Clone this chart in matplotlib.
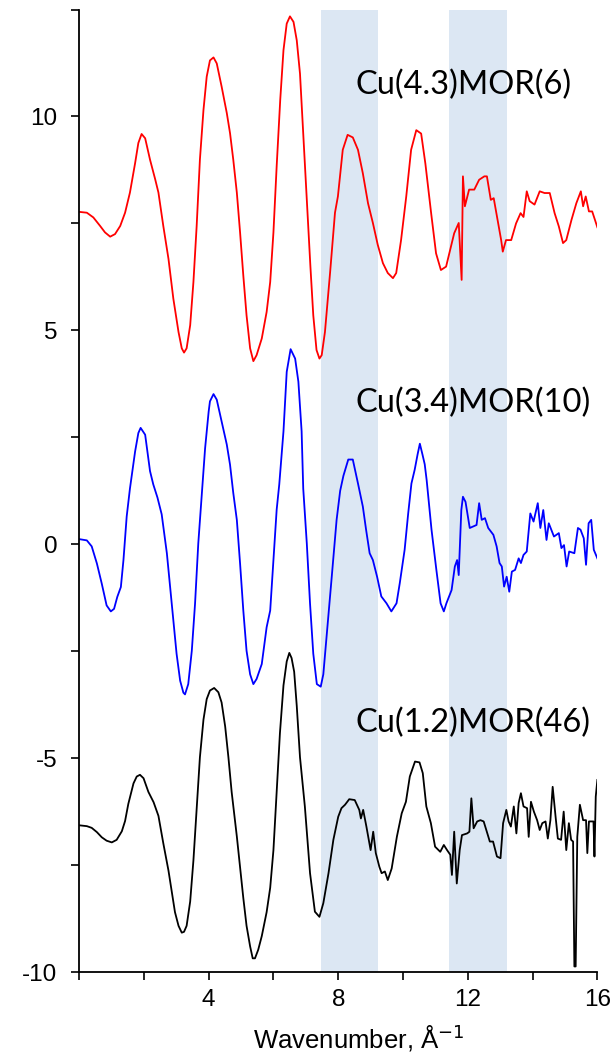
import matplotlib
matplotlib.use("Agg")
import matplotlib.pyplot as plt
from matplotlib.ticker import FixedLocator, FuncFormatter

# k-space EXAFS spectra (offset vertically), k in 1/Angstrom
k_red = [0.0, 0.24, 0.44, 0.65, 0.80, 0.96, 1.11, 1.27, 1.42, 1.57,
         1.73, 1.83, 1.93, 2.04, 2.19, 2.35, 2.45, 2.60, 2.76, 2.91,
         3.07, 3.17, 3.24, 3.32, 3.43, 3.53, 3.63, 3.73, 3.84, 3.94,
         4.04, 4.15, 4.25, 4.40, 4.56, 4.66, 4.76, 4.87, 4.97, 5.07,
         5.17, 5.28, 5.38, 5.48, 5.64, 5.79, 5.90, 6.00, 6.10, 6.21,
         6.31, 6.41, 6.51, 6.62, 6.72, 6.82, 6.92, 7.03, 7.14, 7.23,
         7.33, 7.42, 7.49, 7.59, 7.75, 7.90,
         7.99, 8.14, 8.29, 8.45, 8.61, 8.76, 8.92, 9.07, 9.22, 9.38,
         9.53, 9.69, 9.79, 9.94, 10.1, 10.25, 10.41, 10.56, 10.69, 10.87,
         11.02, 11.17, 11.33, 11.48, 11.58, 11.72, 11.81, 11.85, 11.91, 12.04,
         12.2, 12.35, 12.51, 12.59, 12.71, 12.8, 12.92, 13.03, 13.08, 13.18,
         13.34, 13.49, 13.63, 13.72, 13.82, 13.91, 14.06, 14.22, 14.37, 14.53,
         14.68, 14.81, 14.94, 15.04, 15.2, 15.35, 15.49, 15.56, 15.64, 15.74,
         15.84, 15.94, 16.0]
chi_red = [7.77, 7.75, 7.64, 7.44, 7.29, 7.19, 7.25, 7.44, 7.75, 8.22,
           8.91, 9.38, 9.59, 9.49, 8.99, 8.53, 8.22, 7.44, 6.67, 5.74,
           4.96, 4.58, 4.48, 4.58, 5.12, 6.13, 7.44, 8.99, 10.15, 10.93,
           11.31, 11.38, 11.24, 10.70, 10.08, 9.61, 8.99, 8.22, 7.29, 6.28,
           5.35, 4.58, 4.28, 4.42, 4.81, 5.43, 6.13, 7.29, 8.84, 10.39,
           11.55, 12.17, 12.34, 12.21, 11.78, 11.0, 9.61, 8.06, 6.51, 5.35,
           4.54, 4.34, 4.42, 4.96, 6.36, 7.75,
           8.13, 9.22, 9.57, 9.51, 9.22, 8.67, 7.97, 7.51, 7.0, 6.57,
           6.34, 6.22, 6.34, 7.11, 8.13, 9.22, 9.68, 9.6, 8.9, 7.73,
           6.8, 6.41, 6.49, 6.96, 7.27, 7.51, 6.18, 8.6, 7.9, 8.29,
           8.29, 8.52, 8.6, 8.6, 8.05, 8.09, 7.58, 7.11, 6.84, 7.11,
           7.11, 7.5, 7.74, 7.65, 8.25, 8.02, 7.94, 8.25, 8.21, 8.21,
           7.74, 7.43, 7.04, 7.11, 7.58, 7.97, 8.25, 7.9, 8.13, 7.78,
           7.78, 7.55, 7.41]

k_blue = [0.0, 0.24, 0.39, 0.55, 0.70, 0.85, 0.98, 1.08, 1.18, 1.29,
          1.37, 1.47, 1.57, 1.73, 1.83, 1.90, 2.04, 2.19, 2.29, 2.42,
          2.55, 2.71, 2.81, 2.91, 3.01, 3.12, 3.22, 3.27, 3.37, 3.48,
          3.58, 3.68, 3.79, 3.89, 4.0, 4.04, 4.15, 4.25, 4.4, 4.56,
          4.66, 4.76, 4.87, 4.97, 5.07, 5.17, 5.28, 5.38, 5.48, 5.64,
          5.79, 5.9, 6.0, 6.1, 6.18, 6.31, 6.41, 6.53, 6.67, 6.77,
          6.87, 6.92, 7.03, 7.13, 7.23, 7.34, 7.46, 7.54, 7.64, 7.8,
          7.95, 8.06, 8.16, 8.31, 8.45, 8.61, 8.76, 8.86, 8.97, 9.07,
          9.2, 9.33, 9.49, 9.64, 9.8, 9.9, 10.05, 10.16, 10.26, 10.36,
          10.45, 10.52, 10.6, 10.67, 10.73, 10.88, 11.03, 11.16, 11.26, 11.34,
          11.5, 11.6, 11.67, 11.72, 11.8, 11.85, 11.93, 12.06, 12.27, 12.35,
          12.43, 12.53, 12.63, 12.79, 12.89, 12.98, 13.05, 13.12, 13.2, 13.28,
          13.36, 13.46, 13.57, 13.64, 13.72, 13.82, 13.93, 14.03, 14.16, 14.24,
          14.33, 14.43, 14.5, 14.66, 14.81, 14.89, 14.97, 15.05, 15.13, 15.29,
          15.4, 15.48, 15.58, 15.65, 15.73, 15.81, 15.89, 16.0]
chi_blue = [0.12, 0.09, -0.05, -0.45, -0.92, -1.43, -1.57, -1.51, -1.23, -1.0,
            -0.37, 0.65, 1.3, 2.17, 2.6, 2.72, 2.56, 1.71, 1.4, 1.09,
            0.7, -0.21, -1.0, -1.78, -2.56, -3.19, -3.47, -3.51, -3.27, -2.49,
            -1.39, 0.02, 1.2, 2.24, 3.1, 3.34, 3.51, 3.38, 2.87, 2.33,
            1.86, 1.2, 0.57, -0.45, -1.55, -2.49, -3.04, -3.27, -3.15, -2.8,
            -1.94, -1.55, -0.37, 0.81, 1.4, 2.64, 4.03, 4.56, 4.34, 3.8,
            2.64, 1.3, 0.02, -1.39, -2.56, -3.27, -3.33, -3.04, -2.17, -0.76,
            0.57, 1.25, 1.6, 1.98, 1.98, 1.42, 0.88, 0.34, -0.21, -0.37,
            -0.76, -1.22, -1.38, -1.57, -1.38, -0.91, -0.13, 0.72, 1.42, 1.74,
            2.1, 2.35, 2.1, 1.87, 1.5, 0.34, -0.6, -1.38, -1.57, -1.38,
            -1.07, -0.52, -0.37, -0.72, 0.8, 1.11, 0.99, 0.38, 0.45, 0.96,
            0.57, 0.61, 0.38, 0.22, -0.05, -0.44, -0.52, -0.99, -0.76, -1.11,
            -0.64, -0.6, -0.33, -0.44, -0.25, -0.17, 0.72, 0.53, 0.96, 0.38,
            0.8, 0.1, 0.49, 0.18, 0.26, -0.09, -0.02, -0.52, -0.17, -0.21,
            0.38, 0.34, 0.14, -0.48, 0.49, 0.57, -0.13, -0.33]

k_black = [0.0, 0.24, 0.39, 0.55, 0.70, 0.85, 1.01, 1.16, 1.32, 1.42,
           1.52, 1.68, 1.78, 1.88, 1.99, 2.14, 2.3, 2.45, 2.6, 2.76,
           2.86, 2.96, 3.07, 3.17, 3.24, 3.32, 3.43, 3.53, 3.63, 3.73,
           3.84, 3.94, 4.04, 4.17, 4.3, 4.4, 4.51, 4.61, 4.71, 4.87,
           4.97, 5.07, 5.17, 5.28, 5.36, 5.43, 5.53, 5.64, 5.79, 5.9,
           6.0, 6.1, 6.2, 6.31, 6.41, 6.49, 6.56, 6.64, 6.72, 6.82,
           6.97, 7.13, 7.28, 7.42, 7.54, 7.7, 7.85, 8.0, 8.1, 8.21,
           8.34, 8.51, 8.65, 8.7, 8.77, 8.87, 9.0, 9.08, 9.16, 9.27,
           9.34, 9.44, 9.53, 9.65, 9.81, 9.96, 10.09, 10.21, 10.37, 10.51,
           10.61, 10.72, 10.86, 10.99, 11.15, 11.26, 11.36, 11.46, 11.51, 11.58,
           11.66, 11.75, 11.82, 11.98, 12.05, 12.11, 12.18, 12.29, 12.39, 12.49,
           12.57, 12.68, 12.78, 12.9, 13.01, 13.09, 13.19, 13.26, 13.33, 13.42,
           13.5, 13.57, 13.64, 13.72, 13.83, 13.88, 13.95, 14.04, 14.14, 14.22,
           14.3, 14.4, 14.47, 14.55, 14.62, 14.71, 14.78, 14.88, 14.96, 15.04,
           15.12, 15.19, 15.25, 15.29, 15.33, 15.38, 15.46, 15.56, 15.65, 15.69,
           15.74, 15.88, 15.91, 15.95, 16.0]
chi_black = [-6.57, -6.59, -6.63, -6.73, -6.85, -6.93, -6.97, -6.91, -6.71, -6.47,
             -6.07, -5.59, -5.43, -5.39, -5.47, -5.79, -6.03, -6.35, -6.99, -7.63,
             -8.11, -8.6, -8.92, -9.08, -9.06, -8.92, -8.35, -7.39, -6.19, -4.98,
             -4.1, -3.62, -3.42, -3.36, -3.46, -3.7, -4.26, -4.98, -5.79, -6.83,
             -7.55, -8.27, -8.92, -9.4, -9.68, -9.68, -9.48, -9.16, -8.6, -8.03,
             -7.15, -5.79, -4.42, -3.3, -2.74, -2.54, -2.66, -2.98, -3.78, -4.98,
             -6.13, -7.69, -8.59, -8.71, -8.39, -7.69, -6.91, -6.37, -6.17, -6.09,
             -5.96, -5.98, -6.21, -6.41, -6.21, -6.6, -7.15, -6.72, -7.22, -7.54,
             -7.69, -7.65, -7.85, -7.58, -6.84, -6.29, -6.02, -5.43, -5.08, -5.1,
             -5.35, -6.13, -6.52, -7.07, -7.19, -7.03, -7.15, -7.26, -7.73, -6.72,
             -7.93, -7.15, -6.8, -6.76, -6.72, -5.94, -6.64, -6.48, -6.45, -6.48,
             -6.68, -6.95, -6.95, -7.3, -7.34, -6.52, -6.21, -6.48, -6.6, -6.13,
             -6.76, -6.05, -5.82, -6.13, -6.17, -6.84, -6.02, -6.25, -6.45, -6.68,
             -6.52, -6.48, -6.88, -6.45, -5.67, -6.37, -6.88, -6.91, -6.25, -7.15,
             -6.52, -6.91, -6.95, -9.87, -9.87, -6.84, -6.09, -6.45, -6.45, -7.22,
             -6.48, -6.48, -7.3, -5.9, -5.51]

labels = ["Cu(4.3)MOR(6)", "Cu(3.4)MOR(10)", "Cu(1.2)MOR(46)"]
label_y = [10.74, 3.30, -4.18]
bands = [(7.46, 9.23), (11.42, 13.2)]

plt.rcParams["font.family"] = ["Liberation Sans", "DejaVu Sans"]

fig = plt.figure(figsize=(6.13, 10.57), dpi=100)
ax = fig.add_axes([0.129, 0.0804, 0.8455, 0.9106])

for lo, hi in bands:
    ax.axvspan(lo, hi, color="#dce7f3", lw=0, zorder=0)

ax.plot(k_red, chi_red, color="#ff0000", lw=1.3)
ax.plot(k_blue, chi_blue, color="#0000ff", lw=1.3)
ax.plot(k_black, chi_black, color="black", lw=1.3)

for text, yy in zip(labels, label_y):
    ax.text(8.52, yy, text, fontsize=23.5, family=["Lato", "DejaVu Sans"],
            ha="left", va="center")

ax.set_xlim(0, 16)
ax.set_ylim(-10, 12.5)

ax.xaxis.set_major_locator(FixedLocator(range(0, 17, 2)))
ax.xaxis.set_major_formatter(FuncFormatter(lambda v, p: f"{v:.0f}" if v > 0 and v % 4 == 0 else ""))
ax.yaxis.set_major_locator(FixedLocator([-10, -7.5, -5, -2.5, 0, 2.5, 5, 7.5, 10, 12.5]))
ax.yaxis.set_major_formatter(FuncFormatter(lambda v, p: f"{v:.0f}" if v % 5 == 0 else ""))

ax.tick_params(labelsize=17.5, width=1.2, length=5.5, direction="out")
ax.tick_params(axis="x", pad=7)
ax.tick_params(axis="y", pad=10)

for side in ["top", "right"]:
    ax.spines[side].set_visible(False)
for side in ["left", "bottom"]:
    ax.spines[side].set_linewidth(1.3)

ax.set_xlabel("Wavenumber, Å$^{-1}$", fontsize=18.5)
ax.xaxis.label.set_verticalalignment("center")
ax.xaxis.set_label_coords(0.54, -0.069)

fig.savefig("out.png", dpi=100)
